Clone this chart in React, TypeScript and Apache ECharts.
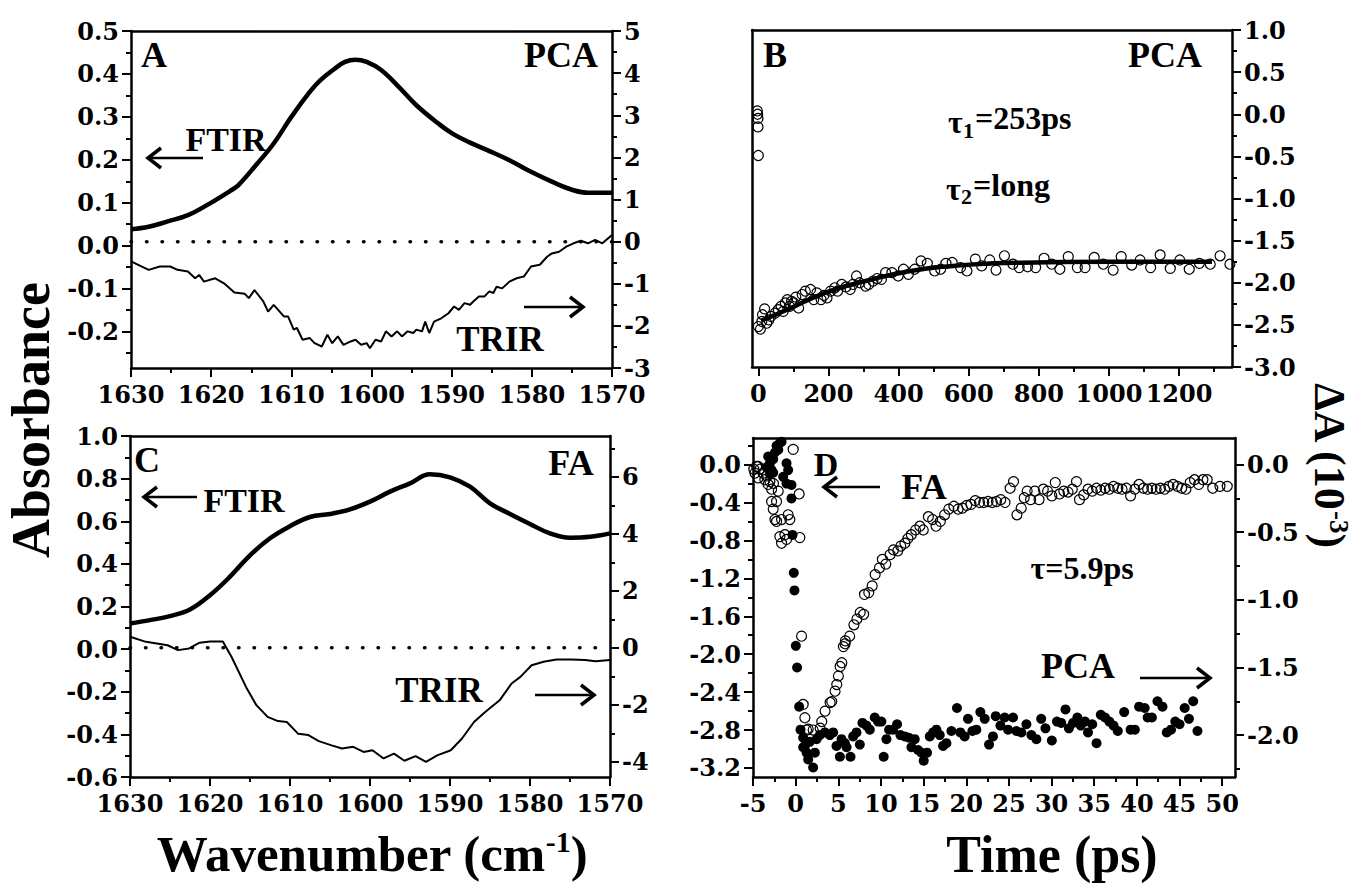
import React, { useEffect, useRef } from "react";
import * as echarts from "echarts";

// ---------------- Panel A (PCA) ----------------
const aFtirWavenumber = [1630, 1627.8, 1625.5, 1622.9, 1620.2, 1617.5, 1616.6, 1614.4, 1612.2, 1610.0, 1607.7, 1606.4, 1604.6, 1603.3, 1602.0, 1600.6, 1598.8, 1596.6, 1594.4, 1591.7, 1589.9, 1587.7, 1585.5, 1582.8, 1580.1, 1577.5, 1574.8, 1573.0, 1570];
const aFtirAbsorbance = [0.038, 0.044, 0.056, 0.071, 0.098, 0.129, 0.141, 0.188, 0.238, 0.300, 0.358, 0.385, 0.412, 0.428, 0.433, 0.428, 0.409, 0.370, 0.327, 0.285, 0.261, 0.240, 0.222, 0.199, 0.172, 0.149, 0.129, 0.123, 0.123];
const aTrirWavenumber = [1630.0, 1627.8, 1626.4, 1625.1, 1624.2, 1622.9, 1622.0, 1621.5, 1620.9, 1619.5, 1618.4, 1617.1, 1615.8, 1615.3, 1614.6, 1613.5, 1612.9, 1612.2, 1610.9, 1610.4, 1609.7, 1609.3, 1608.6, 1607.7, 1607.1, 1606.2, 1605.5, 1604.9, 1604.2, 1603.5, 1602.6, 1602.0, 1601.3, 1600.6, 1600.2, 1599.5, 1598.8, 1598.2, 1597.5, 1596.8, 1596.2, 1595.5, 1594.8, 1594.4, 1593.7, 1593.3, 1592.8, 1592.2, 1591.3, 1590.4, 1589.7, 1589.1, 1588.4, 1587.7, 1587.3, 1586.6, 1585.9, 1585.3, 1584.8, 1584.4, 1583.7, 1582.8, 1581.9, 1581.0, 1580.1, 1579.0, 1578.1, 1577.5, 1576.6, 1575.7, 1574.8, 1573.9, 1573.0, 1572.1, 1571.2, 1570.0];
const aTrirDeltaA = [-0.47, -0.67, -0.59, -0.59, -0.67, -0.71, -0.87, -0.79, -0.95, -0.87, -0.99, -1.21, -1.24, -1.34, -1.15, -1.42, -1.66, -1.50, -1.78, -1.78, -2.09, -2.05, -2.33, -2.29, -2.41, -2.49, -2.21, -2.41, -2.25, -2.45, -2.37, -2.33, -2.45, -2.41, -2.53, -2.33, -2.37, -2.13, -2.25, -2.13, -2.25, -2.13, -2.17, -2.09, -2.13, -1.90, -2.17, -1.90, -1.82, -1.70, -1.54, -1.62, -1.46, -1.50, -1.42, -1.30, -1.30, -1.18, -1.22, -1.07, -1.11, -0.95, -0.87, -0.83, -0.59, -0.55, -0.36, -0.28, -0.24, -0.12, -0.04, 0.02, -0.04, 0.04, -0.04, 0.16];

// ---------------- Panel B (PCA kinetics) ----------------
const bTime = [-3, -2, -1, -1, 0, 0, 6, 10, 12, 18, 24, 30, 36, 48, 57, 65, 71, 77, 83, 89, 95, 101, 107, 115, 125, 134, 149, 158, 167, 179, 187, 196, 206, 218, 226, 238, 250, 262, 270, 280, 289, 306, 315, 327, 339, 351, 363, 381, 399, 414, 428, 446, 464, 482, 503, 520, 535, 553, 577, 595, 619, 637, 660, 678, 702, 726, 744, 768, 791, 815, 837, 860, 884, 910, 932, 958, 984, 1012, 1035, 1065, 1089, 1119, 1146, 1175, 1202, 1229, 1258, 1289, 1317, 1345];
const bDeltaA = [0.04, 0.0, -0.05, -0.15, -0.49, -2.52, -2.55, -2.46, -2.38, -2.31, -2.48, -2.44, -2.40, -2.36, -2.32, -2.28, -2.34, -2.24, -2.20, -2.28, -2.22, -2.24, -2.17, -2.30, -2.14, -2.10, -2.08, -2.20, -2.12, -2.20, -2.15, -2.18, -2.10, -2.06, -2.10, -2.02, -2.05, -2.08, -2.02, -1.92, -2.00, -2.04, -2.02, -1.98, -1.95, -1.96, -1.88, -1.88, -1.92, -1.84, -1.90, -1.84, -1.74, -1.77, -1.86, -1.84, -1.77, -1.76, -1.82, -1.86, -1.72, -1.80, -1.73, -1.85, -1.68, -1.78, -1.82, -1.81, -1.82, -1.71, -1.78, -1.84, -1.69, -1.82, -1.82, -1.70, -1.78, -1.85, -1.69, -1.79, -1.73, -1.82, -1.67, -1.83, -1.73, -1.84, -1.77, -1.78, -1.68, -1.78];
const bFitTime = [8, 77, 196, 315, 434, 553, 670, 791, 1000, 1294];
const bFitDeltaA = [-2.45, -2.33, -2.11, -1.97, -1.86, -1.80, -1.77, -1.76, -1.75, -1.75];

// ---------------- Panel C (FA) ----------------
const cFtirWavenumber = [1630, 1627.5, 1625, 1622.5, 1620, 1617.5, 1615, 1612.5, 1610, 1607.5, 1605, 1602.5, 1600, 1597.5, 1595, 1592.5, 1590, 1587.5, 1585, 1582.5, 1580, 1577.5, 1575, 1572.5, 1570];
const cFtirAbsorbance = [0.12, 0.136, 0.155, 0.186, 0.253, 0.34, 0.44, 0.52, 0.577, 0.62, 0.634, 0.656, 0.692, 0.739, 0.778, 0.82, 0.806, 0.762, 0.684, 0.634, 0.587, 0.543, 0.523, 0.527, 0.543];
const cTrirWavenumber = [1630, 1628, 1625.3, 1624, 1622.6, 1621.3, 1620, 1618.4, 1617.3, 1615.5, 1614.2, 1612.8, 1611.5, 1610.4, 1609.0, 1607.7, 1606.4, 1604.8, 1603.5, 1602.1, 1600.8, 1599.7, 1598.3, 1597.0, 1595.7, 1594.3, 1593.0, 1591.6, 1589.9, 1588.5, 1587.0, 1585.6, 1583.8, 1582.3, 1581.2, 1579.8, 1578.3, 1576.7, 1574.9, 1573.1, 1571.8, 1570];
const cTrirDeltaA = [0.39, 0.21, 0.09, -0.08, -0.02, 0.18, 0.22, 0.22, -0.32, -1.37, -2.01, -2.42, -2.57, -2.60, -3.01, -3.06, -3.27, -3.42, -3.53, -3.47, -3.65, -3.59, -3.88, -3.71, -3.96, -3.80, -4.00, -3.77, -3.59, -3.18, -2.60, -2.25, -1.84, -1.25, -1.02, -0.61, -0.49, -0.41, -0.41, -0.43, -0.47, -0.43];

// ---------------- Panel D (FA open, PCA filled) ----------------
const dFaTime = [-4.9, -4.4, -3.4, -2.6, -4.58, -4.19, -4.78, -3.80, -4.39, -3.61, -3.02, -3.22, -2.82, -2.04, -2.82, -2.24, -2.63, -2.43, -2.24, -1.65, -0.88, -0.68, -1.85, -1.26, -1.65, -1.07, 0.49, -0.29, 0.41, 0.69, 0.88, 1.08, 1.28, 1.47, 2.05, 2.87, 3.06, 3.45, 4.04, 4.23, 4.62, 4.82, 5.01, 5.21, 5.41, 5.60, 5.80, 5.83, 6.33, 6.83, 7.18, 7.57, 7.97, 8.07, 8.57, 8.97, 9.32, 9.82, 10.17, 10.57, 11.07, 11.47, 11.97, 12.32, 12.81, 13.16, 13.56, 14.06, 14.56, 14.96, 15.56, 16.06, 16.46, 16.96, 17.46, 17.95, 18.55, 19.05, 19.55, 20.05, 20.55, 21.05, 21.55, 22.05, 22.55, 23.05, 23.54, 24.04, 24.54, 25.14, 25.54, 25.94, 26.44, 26.79, 27.14, 27.54, 28.03, 28.53, 29.03, 29.53, 30.03, 30.43, 30.93, 31.43, 31.93, 32.43, 32.92, 33.27, 33.77, 34.27, 34.77, 35.27, 35.77, 36.27, 36.77, 37.26, 37.76, 38.26, 38.76, 39.26, 39.76, 40.26, 40.76, 41.26, 41.76, 42.26, 42.75, 43.25, 43.75, 44.25, 44.75, 45.25, 45.75, 46.25, 46.75, 47.25, 47.74, 48.24, 48.89, 49.74, 50.59];
const dFaDeltaA = [-0.05, -0.02, -0.12, -0.2, -0.02, -0.05, -0.09, -0.09, -0.14, -0.16, -0.18, -0.21, -0.26, -0.28, -0.39, -0.39, -0.47, -0.58, -0.60, -0.58, -0.53, -0.58, -0.76, -0.74, -0.83, -0.79, -0.77, 0.16, -0.31, -1.81, -2.53, -2.67, -2.80, -2.79, -2.80, -2.78, -2.71, -2.60, -2.51, -2.50, -2.39, -2.32, -2.23, -2.13, -2.09, -1.92, -1.89, -1.86, -1.81, -1.69, -1.63, -1.56, -1.58, -1.37, -1.35, -1.28, -1.16, -1.09, -1.00, -1.05, -0.95, -0.90, -0.91, -0.86, -0.83, -0.78, -0.74, -0.69, -0.65, -0.69, -0.55, -0.58, -0.65, -0.60, -0.53, -0.47, -0.44, -0.47, -0.46, -0.43, -0.42, -0.38, -0.40, -0.40, -0.39, -0.40, -0.39, -0.37, -0.40, -0.25, -0.18, -0.53, -0.46, -0.35, -0.28, -0.37, -0.28, -0.37, -0.26, -0.28, -0.33, -0.19, -0.31, -0.28, -0.29, -0.26, -0.18, -0.37, -0.32, -0.26, -0.28, -0.25, -0.27, -0.25, -0.26, -0.23, -0.25, -0.26, -0.25, -0.33, -0.26, -0.21, -0.25, -0.26, -0.25, -0.26, -0.25, -0.26, -0.23, -0.21, -0.23, -0.25, -0.26, -0.19, -0.16, -0.21, -0.16, -0.16, -0.25, -0.23, -0.23];
const dPcaTime = [-3.22, -3.02, -3.41, -2.82, -2.63, -2.43, -2.24, -1.85, -2.04, -1.65, -3.02, -2.63, -1.07, -0.88, -1.46, -1.07, -0.49, -0.49, -0.37, -0.22, -0.14, 0.02, 0.17, 0.41, 0.57, 0.88, 1.08, 1.28, 1.47, 2.05, 2.25, 0.88, 1.66, 2.45, 2.84, 3.43, 4.01, 4.40, 4.79, 5.18, 5.38, 5.77, 5.97, 6.43, 6.74, 7.13, 7.52, 7.83, 8.30, 8.69, 9.27, 9.66, 10.05, 10.32, 10.64, 10.95, 11.42, 11.89, 12.28, 12.79, 13.29, 13.57, 13.96, 14.35, 14.74, 15.01, 15.40, 15.72, 16.11, 16.50, 16.89, 17.28, 17.67, 18.26, 18.91, 19.31, 19.81, 20.20, 20.72, 21.18, 21.65, 22.16, 22.67, 23.13, 23.45, 24.0, 24.5, 24.9, 25.48, 25.88, 26.46, 27.05, 27.63, 28.22, 28.78, 29.28, 30.03, 30.63, 31.13, 31.63, 32.03, 32.52, 33.02, 33.42, 33.92, 34.27, 34.77, 35.27, 35.77, 36.27, 36.77, 37.26, 37.76, 38.51, 39.26, 39.76, 40.26, 40.91, 41.26, 41.76, 42.41, 43.00, 43.50, 44.00, 44.50, 45.00, 45.60, 46.10, 46.60, 47.10];
const dPcaDeltaA = [0.06, 0.01, -0.02, -0.04, 0.04, 0.09, 0.14, 0.16, 0.11, 0.17, -0.07, -0.06, 0.01, -0.04, -0.09, -0.14, -0.15, -0.25, -0.52, -0.80, -0.93, -1.34, -1.50, -1.79, -1.96, -2.02, -2.08, -2.13, -2.18, -2.24, -2.13, -2.09, -2.05, -2.03, -2.00, -1.98, -2.00, -1.98, -2.08, -2.16, -2.03, -2.06, -2.09, -2.16, -2.01, -1.98, -2.07, -1.91, -1.93, -1.96, -1.87, -1.90, -1.90, -2.16, -2.03, -1.96, -1.96, -1.92, -2.00, -2.01, -2.02, -2.09, -2.03, -2.11, -2.13, -2.19, -2.13, -2.01, -1.98, -1.96, -2.00, -2.08, -2.06, -1.97, -1.80, -1.98, -2.01, -1.88, -1.97, -1.96, -1.83, -1.88, -2.07, -2.01, -1.86, -1.93, -1.87, -1.96, -1.87, -1.97, -1.98, -1.92, -2.00, -2.03, -1.88, -1.95, -2.04, -1.90, -1.91, -1.81, -1.95, -1.91, -1.87, -1.93, -1.90, -1.98, -1.92, -2.06, -1.85, -1.87, -1.90, -1.93, -1.97, -1.83, -1.96, -1.96, -1.79, -1.80, -1.87, -1.87, -1.75, -1.79, -1.98, -1.96, -1.90, -1.92, -1.80, -1.88, -1.75, -1.97];

// ---------------- Tick labels ----------------
const wavenumberTicks = [1630, 1620, 1610, 1600, 1590, 1580, 1570];
const aLeftTicks = [0.5, 0.4, 0.3, 0.2, 0.1, 0, -0.1, -0.2];
const aRightTicks = [5, 4, 3, 2, 1, 0, -1, -2, -3];
const bTimeTicks = [0, 200, 400, 600, 800, 1000, 1200];
const bRightTicks = [1, 0.5, 0, -0.5, -1, -1.5, -2, -2.5, -3];
const cLeftTicks = [1, 0.8, 0.6, 0.4, 0.2, 0, -0.2, -0.4, -0.6];
const cRightTicks = [6, 4, 2, 0, -2, -4];
const dTimeTicks = [-5, 0, 5, 10, 15, 20, 25, 30, 35, 40, 45, 50];
const dLeftTicks = [0, -0.4, -0.8, -1.2, -1.6, -2.0, -2.4, -2.8, -3.2];
const dRightTicks = [0, -0.5, -1.0, -1.5, -2.0];

// ---------------- helpers ----------------
const zip = (xs: number[], ys: number[]) =>
  xs.slice(0, Math.min(xs.length, ys.length)).map((x, i) => [x, ys[i]]);

function minorsOf(ticks: number[], min: number, max: number) {
  const s = [...ticks].sort((a, b) => a - b);
  const out: number[] = [];
  for (let i = 0; i < s.length - 1; i++) out.push((s[i] + s[i + 1]) / 2);
  const step = s[1] - s[0];
  const lo = s[0] - step / 2;
  const hi = s[s.length - 1] + step / 2;
  if (lo >= min - 1e-9) out.push(lo);
  if (hi <= max + 1e-9) out.push(hi);
  return out;
}

const SERIF = "Liberation Serif";
const TICK_FONT = { fontFamily: "DejaVu Serif", fontWeight: "bold", fontSize: 24, color: "#000" };

function mainAxis(grid: number, position: string, min: number, max: number, ticks: number[], fmt: (v: number) => string, margin: number, inverse = false) {
  return {
    type: "value", gridIndex: grid, position, min, max, inverse, scale: true,
    axisLine: { show: true, onZero: false, lineStyle: { color: "#000", width: 2.5 } },
    axisTick: { show: true, inside: false, length: 9, lineStyle: { color: "#000", width: 2 }, customValues: ticks },
    axisLabel: { show: true, customValues: ticks, formatter: (v: number) => fmt(v), margin, ...TICK_FONT },
    splitLine: { show: false },
  };
}
function minorAxis(grid: number, position: string, min: number, max: number, ticks: number[], inverse = false) {
  return {
    type: "value", gridIndex: grid, position, min, max, inverse, scale: true,
    axisLine: { show: false, onZero: false },
    axisTick: { show: true, inside: false, length: 5, lineStyle: { color: "#000", width: 2 }, customValues: minorsOf(ticks, min, max) },
    axisLabel: { show: false },
    splitLine: { show: false },
  };
}
function frameAxis(grid: number, position: string, min: number, max: number) {
  return {
    type: "value", gridIndex: grid, position, min, max, scale: true,
    axisLine: { show: true, onZero: false, lineStyle: { color: "#000", width: 2.5 } },
    axisTick: { show: false }, axisLabel: { show: false }, splitLine: { show: false },
  };
}

const f0 = (v: number) => String(Math.round(v));
const f1 = (v: number) => (Math.abs(v) < 1e-9 ? "0.0" : v.toFixed(1));

function txt(text: string, x: number, y: number, size = 34, align = "center") {
  return {
    type: "text", x, y, silent: true,
    style: { text, fill: "#000", font: `bold ${size}px "${SERIF}"`, align, verticalAlign: "middle", textAlign: align, textVerticalAlign: "middle" },
  };
}
function arrow(xTail: number, xHead: number, y: number) {
  const d = xHead > xTail ? 1 : -1;
  return [
    { type: "line", silent: true, shape: { x1: xTail, y1: y, x2: xHead - d * 2, y2: y }, style: { stroke: "#000", lineWidth: 2.5 } },
    { type: "polyline", silent: true, shape: { points: [[xHead - d * 13, y - 10], [xHead, y], [xHead - d * 13, y + 10]] }, style: { stroke: "#000", lineWidth: 3.5, fill: null } },
  ];
}

// axis ranges
const A_L = [-0.285, 0.5], A_R = [-3, 5], WN = [1570, 1630];
const B_X = [-18, 1351], B_R = [-3, 1];
const C_L = [-0.6, 1.0], C_R = [-4.53, 7.43];
const D_X = [-5, 51.5], D_L = [-3.295, 0.28], D_R = [-2.31, 0.197];

export default function App() {
  const ref = useRef<HTMLDivElement>(null);
  useEffect(() => {
    document.body.style.margin = "0";
    const chart = echarts.init(ref.current!, null, { renderer: "svg" });

    const grid = [
      { left: 131, top: 31, width: 481, height: 337 },
      { left: 752, top: 30, width: 480, height: 337 },
      { left: 130, top: 436, width: 480, height: 341 },
      { left: 753, top: 438, width: 482, height: 339 },
    ];

    const XM = 14;
    const xAxis = [
      mainAxis(0, "bottom", WN[0], WN[1], wavenumberTicks, f0, XM, true),
      minorAxis(0, "bottom", WN[0], WN[1], wavenumberTicks, true),
      frameAxis(0, "top", WN[0], WN[1]),
      mainAxis(1, "bottom", B_X[0], B_X[1], bTimeTicks, f0, XM),
      minorAxis(1, "bottom", B_X[0], B_X[1], bTimeTicks),
      frameAxis(1, "top", B_X[0], B_X[1]),
      mainAxis(2, "bottom", WN[0], WN[1], wavenumberTicks, f0, XM, true),
      minorAxis(2, "bottom", WN[0], WN[1], wavenumberTicks, true),
      frameAxis(2, "top", WN[0], WN[1]),
      mainAxis(3, "bottom", D_X[0], D_X[1], dTimeTicks, f0, XM),
      minorAxis(3, "bottom", D_X[0], D_X[1], dTimeTicks),
      frameAxis(3, "top", D_X[0], D_X[1]),
    ];
    const yAxis = [
      mainAxis(0, "left", A_L[0], A_L[1], aLeftTicks, f1, 12),
      minorAxis(0, "left", A_L[0], A_L[1], aLeftTicks),
      mainAxis(0, "right", A_R[0], A_R[1], aRightTicks, f0, 12),
      minorAxis(0, "right", A_R[0], A_R[1], aRightTicks),
      frameAxis(1, "left", B_R[0], B_R[1]),
      mainAxis(1, "right", B_R[0], B_R[1], bRightTicks, f1, 12),
      minorAxis(1, "right", B_R[0], B_R[1], bRightTicks),
      mainAxis(2, "left", C_L[0], C_L[1], cLeftTicks, f1, 12),
      minorAxis(2, "left", C_L[0], C_L[1], cLeftTicks),
      mainAxis(2, "right", C_R[0], C_R[1], cRightTicks, f0, 12),
      minorAxis(2, "right", C_R[0], C_R[1], cRightTicks),
      mainAxis(3, "left", D_L[0], D_L[1], dLeftTicks, f1, 12),
      minorAxis(3, "left", D_L[0], D_L[1], dLeftTicks),
      mainAxis(3, "right", D_R[0], D_R[1], dRightTicks, f1, 12),
      minorAxis(3, "right", D_R[0], D_R[1], dRightTicks),
    ];

    const thick = { color: "#000", width: 4.5 };
    const thin = { color: "#000", width: 2 };
    const dotted = { color: "#000", width: 3.5, type: [0.5, 15], cap: "round" };
    const openCircle = { color: "rgba(255,255,255,0)", borderColor: "#000", borderWidth: 1.2, opacity: 1 };

    const series: any[] = [
      { type: "line", xAxisIndex: 0, yAxisIndex: 0, data: zip(aFtirWavenumber, aFtirAbsorbance), smooth: 0.4, showSymbol: false, lineStyle: thick },
      { type: "line", xAxisIndex: 0, yAxisIndex: 2, data: zip(aTrirWavenumber, aTrirDeltaA), showSymbol: false, lineStyle: thin },
      { type: "line", xAxisIndex: 0, yAxisIndex: 2, data: [[WN[1], 0], [WN[0], 0]], showSymbol: false, lineStyle: dotted },
      { type: "scatter", xAxisIndex: 3, yAxisIndex: 5, data: zip(bTime, bDeltaA), symbol: "circle", symbolSize: 10, itemStyle: openCircle },
      { type: "line", xAxisIndex: 3, yAxisIndex: 5, data: zip(bFitTime, bFitDeltaA), smooth: 0.5, showSymbol: false, lineStyle: { color: "#000", width: 4.5 } },
      { type: "line", xAxisIndex: 6, yAxisIndex: 7, data: zip(cFtirWavenumber, cFtirAbsorbance), smooth: 0.4, showSymbol: false, lineStyle: thick },
      { type: "line", xAxisIndex: 6, yAxisIndex: 9, data: zip(cTrirWavenumber, cTrirDeltaA), showSymbol: false, lineStyle: thin },
      { type: "line", xAxisIndex: 6, yAxisIndex: 9, data: [[WN[1], 0], [WN[0], 0]], showSymbol: false, lineStyle: dotted },
      { type: "scatter", xAxisIndex: 9, yAxisIndex: 11, data: zip(dFaTime, dFaDeltaA), symbol: "circle", symbolSize: 10, itemStyle: openCircle },
      { type: "scatter", xAxisIndex: 9, yAxisIndex: 13, data: zip(dPcaTime, dPcaDeltaA), symbol: "circle", symbolSize: 10, itemStyle: { color: "#000", opacity: 1 } },
    ];

    const graphic: any[] = [
      // panel A
      txt("A", 154, 55, 36), txt("PCA", 561, 55, 36),
      txt("FTIR", 226, 139, 34), ...arrow(203, 148, 158),
      txt("TRIR", 500, 339, 35), ...arrow(524, 583, 307),
      // panel B
      txt("B", 775, 55, 36), txt("PCA", 1165, 55, 36),
      txt("τ", 948, 122, 32, "left"), txt("1", 963, 130, 22, "left"), txt("=253ps", 975, 118, 32, "left"),
      txt("τ", 946, 189, 32, "left"), txt("2", 961, 196, 22, "left"), txt("=long", 973, 185, 32, "left"),
      // panel C
      txt("C", 147, 460, 36), txt("FA", 571, 463, 36),
      ...arrow(197, 144, 497), txt("FTIR", 244, 500, 34),
      txt("TRIR", 439, 690, 35), ...arrow(535, 594, 695),
      // panel D
      txt("D", 826, 464, 34), ...arrow(880, 824, 487), txt("FA", 924, 487, 36),
      txt("τ=5.9ps", 1082, 568, 32), txt("PCA", 1078, 666, 36), ...arrow(1140, 1210, 678),
      // axis titles
      {
        type: "text", x: 31, y: 420, rotation: Math.PI / 2, silent: true,
        style: { text: "Absorbance", fill: "#000", font: `bold 54px "${SERIF}"`, align: "center", verticalAlign: "middle", textAlign: "center", textVerticalAlign: "middle" },
      },
      {
        type: "text", x: 372, y: 854, silent: true,
        style: {
          text: "{a|Wavenumber (cm}{s|-1}{a|)}", fill: "#000", align: "center", verticalAlign: "middle", textAlign: "center", textVerticalAlign: "middle",
          rich: {
            a: { fontFamily: SERIF, fontWeight: "bold", fontSize: 51, lineHeight: 56, fill: "#000", verticalAlign: "middle" },
            s: { fontFamily: SERIF, fontWeight: "bold", fontSize: 30, lineHeight: 22, fill: "#000", verticalAlign: "top" },
          },
        },
      },
      txt("Time (ps)", 1052, 854, 52),
      {
        type: "text", x: 1329, y: 465, rotation: -Math.PI / 2, silent: true,
        style: {
          text: "{a|ΔA (10}{s|-3}{a|)}", fill: "#000", align: "center", verticalAlign: "middle", textAlign: "center", textVerticalAlign: "middle",
          rich: {
            a: { fontFamily: SERIF, fontWeight: "bold", fontSize: 44, lineHeight: 46, fill: "#000", verticalAlign: "middle" },
            s: { fontFamily: SERIF, fontWeight: "bold", fontSize: 27, lineHeight: 18, fill: "#000", verticalAlign: "top" },
          },
        },
      },
    ];

    chart.setOption({
      animation: false,
      backgroundColor: "#fff",
      grid,
      xAxis,
      yAxis,
      series,
      graphic,
    });
    return () => chart.dispose();
  }, []);
  return <div ref={ref} style={{ width: 1358, height: 885 }} />;
}
